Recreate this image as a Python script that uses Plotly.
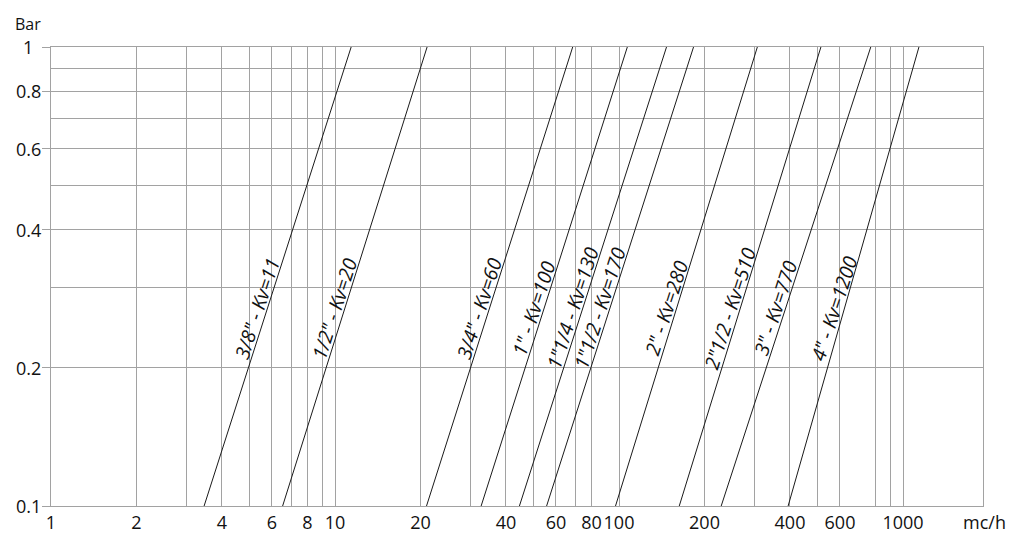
import numpy as np
import plotly.graph_objects as go

# ---- data ----
sizes = ['3/8"', '1/2"', '3/4"', '1"', '1"1/4', '1"1/2', '2"', '2"1/2', '3"', '4"']
kv_values = [11, 20, 60, 100, 130, 170, 280, 510, 770, 1200]
flow_at_low = [3.46, 6.54, 21.0, 32.7, 44.6, 55.6, 97.2, 163, 229, 394]      # mc/h at 0.1 bar
flow_at_high = [11.4, 21.1, 68.7, 107, 147, 183, 307, 514, 770, 1138]       # mc/h at 1 bar
pressure_ends = [0.1, 1.0]

x_tick_vals = [1, 2, 4, 6, 8, 10, 20, 40, 60, 80, 100, 200, 400, 600, 1000]
x_minor_vals = [3, 5, 7, 9, 30, 50, 70, 300, 500, 800, 900]
y_tick_vals = [0.1, 0.2, 0.4, 0.6, 0.8, 1]
y_tick_text = ["0.1", "0.2", "0.4", "0.6", "0.8", "1"]
y_minor_vals = [0.3, 0.5, 0.7, 0.9]

x_unit = "mc/h"
y_unit = "Bar"

# ---- styling ----
FONT = "Open Sans"
GRID = "#a2a2a2"
LINE = "#1a1a1a"
TXT = "#111111"
label_y = 0.27

fig = go.Figure()
for s, k, lo, hi in zip(sizes, kv_values, flow_at_low, flow_at_high):
    fig.add_trace(go.Scatter(
        x=[lo, hi], y=pressure_ends, mode="lines",
        line=dict(color=LINE, width=1), hoverinfo="skip", showlegend=False,
    ))
    t = (np.log10(label_y) - np.log10(pressure_ends[0])) / (np.log10(pressure_ends[1]) - np.log10(pressure_ends[0]))
    lx = np.log10(lo) + t * (np.log10(hi) - np.log10(lo))
    fig.add_annotation(
        x=lx, y=np.log10(label_y), xref="x", yref="y",
        text=f"<i>{s} - Kv={k}</i>", showarrow=False, textangle=-72,
        xanchor="center", yanchor="middle", xshift=-11,
        font=dict(family=FONT, size=19.5, color=TXT),
    )

for v, tt in zip(y_tick_vals, y_tick_text):
    fig.add_annotation(
        x=0, y=np.log10(v), xref="paper", yref="y", text=tt, showarrow=False,
        xanchor="center", yanchor="middle", xshift=-23,
        font=dict(family=FONT, size=18, color=TXT),
    )

fig.add_annotation(x=0, y=1, xref="paper", yref="paper", text=y_unit, showarrow=False,
                   xanchor="center", yanchor="middle", xshift=-23, yshift=23,
                   font=dict(family=FONT, size=16, color=TXT))
fig.add_annotation(x=1, y=0, xref="paper", yref="paper", text=x_unit, showarrow=False,
                   xanchor="center", yanchor="middle", xshift=1, yshift=-16,
                   font=dict(family=FONT, size=18, color=TXT))

L, R, T, B = 51, 41, 47, 41
plot_w = 1024 - L - R
decade_px = 284.0

fig.update_layout(
    width=1024, height=547,
    margin=dict(l=L, r=R, t=T, b=B, pad=0),
    paper_bgcolor="white", plot_bgcolor="white",
    showlegend=False,
    font=dict(family=FONT, size=18, color=TXT),
    xaxis=dict(
        type="log", range=[0, plot_w / decade_px],
        tickmode="array", tickvals=x_tick_vals, ticktext=[str(v) for v in x_tick_vals],
        tickangle=0,
        showgrid=True, gridcolor=GRID, gridwidth=1,
        minor=dict(tickmode="array", tickvals=x_minor_vals, showgrid=True, gridcolor=GRID, gridwidth=1, ticks=""),
        showline=True, linecolor=GRID, linewidth=1, mirror=True,
        ticks="", zeroline=False,
        tickfont=dict(family=FONT, size=18, color=TXT),
    ),
    yaxis=dict(
        type="log", range=[-1, 0],
        tickmode="array", tickvals=y_tick_vals, showticklabels=False,
        showgrid=True, gridcolor=GRID, gridwidth=1,
        minor=dict(tickmode="array", tickvals=y_minor_vals, showgrid=True, gridcolor=GRID, gridwidth=1, ticks=""),
        showline=True, linecolor=GRID, linewidth=1, mirror=True,
        ticks="outside", ticklen=8, tickcolor=GRID, tickwidth=1, zeroline=False,
    ),
)

fig.write_html("out.html", config={"displayModeBar": False},
               post_script="document.body.style.margin='0';")
